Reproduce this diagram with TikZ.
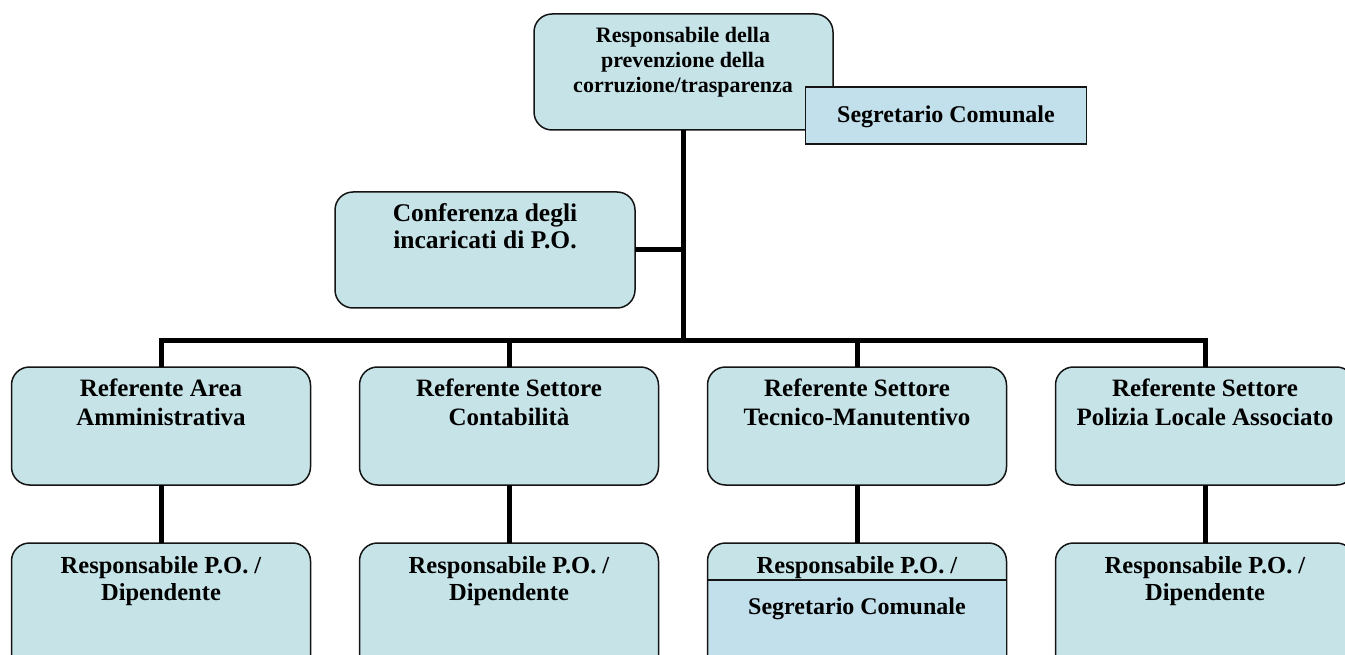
\documentclass[tikz,border=0pt]{standalone}
\usepackage{fontspec}
\setmainfont{Liberation Serif}
\definecolor{boxfill}{RGB}{198,228,232}
\definecolor{segfill}{RGB}{194,224,236}
\definecolor{edge}{RGB}{20,20,20}
\begin{document}
\begin{tikzpicture}[x=1pt,y=-1pt,
  rbox/.style={draw=edge,line width=1.5pt,fill=boxfill,rounded corners=18pt,minimum width=299pt,minimum height=118pt,inner sep=0pt,outer sep=0pt},
  sbox/.style={draw=edge,line width=1.8pt,fill=segfill,minimum width=281pt,minimum height=57pt,inner sep=0pt,outer sep=0pt},
  lbl/.style={font=\bfseries\fontsize{25}{29}\selectfont,align=center,anchor=north,inner sep=0pt},
  conn/.style={line width=5pt,draw=black}]
\clip (0,0) rectangle (1345,655);
% top
\node[rbox,minimum height=116pt] (top) at (683.5,72) {};
\node[lbl,font=\bfseries\fontsize{22}{25}\selectfont] (ttop) at (683,27) {Responsabile della\\prevenzione della\\corruzione/trasparenza};
% conferenza
\node[rbox,minimum height=116pt,minimum width=300pt] (conf) at (485,250) {};
\node[lbl,font=\bfseries\fontsize{25.5}{27}\selectfont] (tconf) at (485,203.5) {Conferenza degli\\incaricati di P.O.};
% referenti
\node[rbox] (r1) at (161,426) {};
\node[rbox] (r2) at (509,426) {};
\node[rbox] (r3) at (857,426) {};
\node[rbox] (r4) at (1205,426) {};
\node[lbl] (tr1) at (161,379) {Referente Area\\Amministrativa};
\node[lbl] (tr2) at (509,379) {Referente Settore\\Contabilità};
\node[lbl] (tr3) at (857,379) {Referente Settore\\Tecnico-Manutentivo};
\node[lbl] (tr4) at (1205,379) {Referente Settore\\Polizia Locale Associato};
% responsabili
\node[rbox,minimum height=140pt] (b1) at (161,613) {};
\node[rbox,minimum height=140pt] (b2) at (509,613) {};
\node[rbox,minimum height=140pt] (b3) at (857,613) {};
\node[rbox,minimum height=140pt] (b4) at (1205,613) {};
\fill[segfill] ([xshift=1pt]b3.west |- 0,580) rectangle ([xshift=-1pt]b3.east |- 0,660);
\draw[edge,line width=1.5pt] (b3.west |- 0,580) -- (b3.east |- 0,580);
\draw[edge,line width=1.5pt] (b3.west |- 0,570) -- (b3.west |- 0,660) (b3.east |- 0,570) -- (b3.east |- 0,660);
\node[lbl,font=\bfseries\fontsize{24.5}{27.5}\selectfont] (tb1) at (161,556) {Responsabile P.O. /\\Dipendente};
\node[lbl,font=\bfseries\fontsize{24.5}{27.5}\selectfont] (tb2) at (509,556) {Responsabile P.O. /\\Dipendente};
\node[lbl,font=\bfseries\fontsize{24.5}{27.5}\selectfont] (tb3) at (857,556) {Responsabile P.O. /};
\node[lbl,font=\bfseries\fontsize{24}{28}\selectfont] (tb3b) at (857,598) {Segretario Comunale};
\node[lbl,font=\bfseries\fontsize{24.5}{27.5}\selectfont] (tb4) at (1205,556) {Responsabile P.O. /\\Dipendente};
% connectors
\coordinate (bus) at (683,340);
\draw[conn] (top.south) -- (top.south |- bus);
\draw[conn] (conf.east) -- (conf.east -| top.south);
\draw[conn] (r1.north) -- (r1.north |- bus) -- (r4.north |- bus) -- (r4.north);
\draw[conn] (r2.north) -- (r2.north |- bus);
\draw[conn] (r3.north) -- (r3.north |- bus);
\draw[conn] (r1.south) -- (b1.north);
\draw[conn] (r2.south) -- (b2.north);
\draw[conn] (r3.south) -- (b3.north);
\draw[conn] (r4.south) -- (b4.north);
% segretario
\node[sbox] (seg) at (946,115.5) {};
\node[lbl,font=\bfseries\fontsize{24}{28}\selectfont,anchor=base] (tseg) at (946,123) {Segretario Comunale};
\end{tikzpicture}
\end{document}
